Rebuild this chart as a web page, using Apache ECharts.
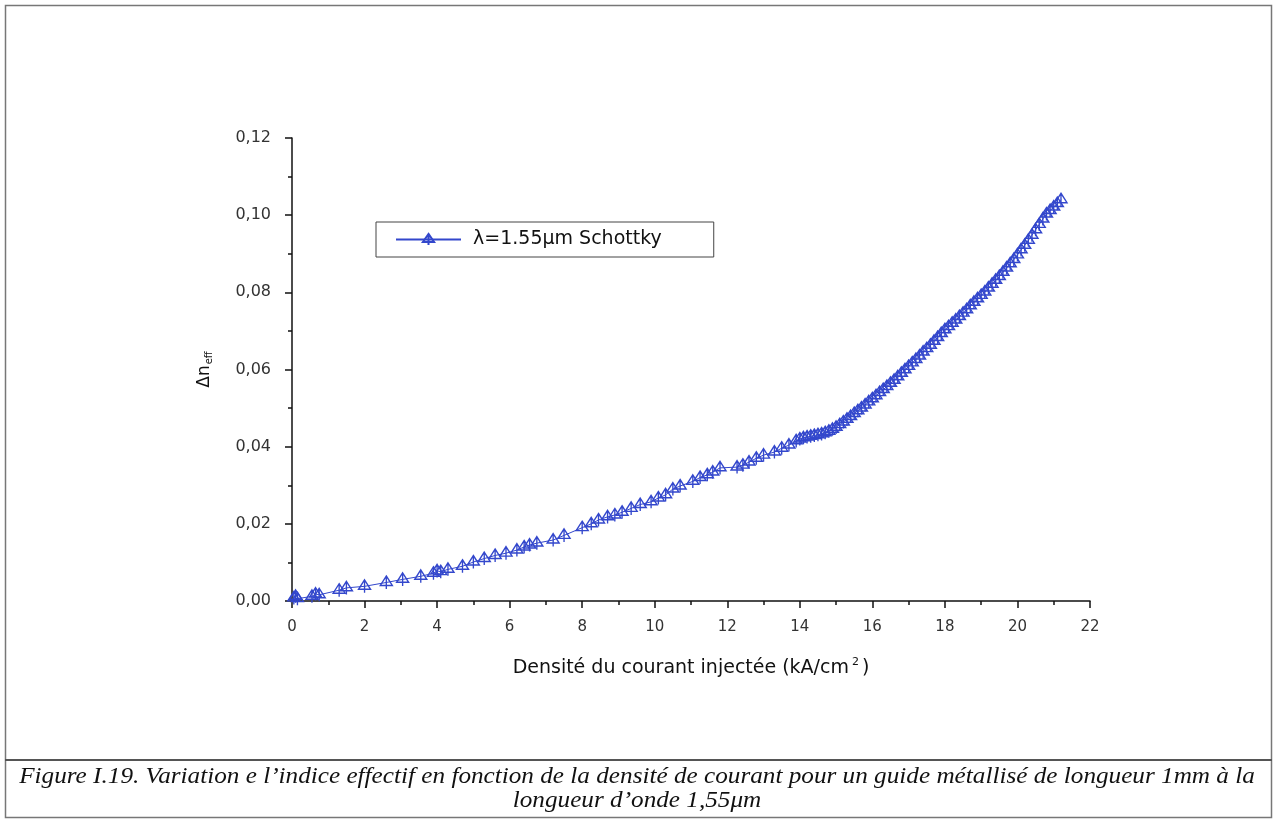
<!DOCTYPE html>
<html><head><meta charset="utf-8">
<script src="https://cdn.jsdelivr.net/npm/echarts@6/dist/echarts.min.js"></script>
<style>html,body{margin:0;padding:0;background:#fff}#c{width:1277px;height:821px}</style>
</head><body><div id="c"></div>
<script>
var xVals = [0.05,0.10,0.15,0.55,0.65,0.75,1.30,1.50,2.00,2.60,3.05,3.55,3.90,4.00,4.10,4.30,4.70,
5.00,5.30,5.60,5.90,6.20,6.40,6.55,6.75,7.20,7.50,8.00,8.25,8.45,8.70,8.90,9.10,9.35,9.60,9.90,10.10,10.30,
10.50,10.70,11.05,11.25,11.45,11.60,11.80,12.27,12.43,12.60,12.80,13.00,13.30,13.50,13.70,
13.90,14.00,14.10,14.20,14.30,14.40,14.50,14.60,14.70,14.80,14.90,
15.0,15.1,15.2,15.3,15.4,15.5,15.6,15.7,15.8,15.9,16.0,16.1,16.2,16.3,16.4,16.5,16.6,16.7,16.8,16.9,
17.0,17.1,17.2,17.3,17.4,17.5,17.6,17.7,17.8,17.9,18.0,18.1,18.2,18.3,18.4,18.5,18.6,18.7,18.8,18.9,
19.0,19.1,19.2,19.3,19.4,19.5,19.6,19.7,19.8,19.9,20.0,20.1,20.2,20.3,20.4,20.5,20.6,20.7,20.8,20.9,
21.0,21.1,21.2];
var yVals = [0.0008,0.0012,0.0006,0.0012,0.0018,0.0016,0.0028,0.0034,0.0038,0.0048,0.0056,0.0064,0.0072,0.0078,0.0076,0.0082,0.0090,
0.0101,0.0110,0.0118,0.0124,0.0132,0.0140,0.0145,0.0150,0.0158,0.0170,0.0190,0.0200,0.0210,0.0218,0.0223,0.0230,0.0240,0.0250,0.0257,0.0267,0.0275,
0.0290,0.0298,0.0310,0.0320,0.0327,0.0334,0.0345,0.0347,0.0352,0.0360,0.0370,0.0378,0.0386,0.0396,0.0404,
0.0415,0.0420,0.0423,0.0425,0.0427,0.0429,0.0431,0.0433,0.0436,0.0440,0.0445,
0.0450,0.0457,0.0464,0.0471,0.0478,0.0486,0.0493,0.0500,0.0508,0.0516,0.0524,0.0532,0.0540,0.0548,0.0556,0.0564,0.0572,0.0581,0.0590,0.0599,
0.0608,0.0617,0.0626,0.0635,0.0645,0.0654,0.0663,0.0673,0.0683,0.0693,0.0703,0.0711,0.0720,0.0728,0.0737,0.0746,0.0755,0.0765,0.0774,0.0783,
0.0792,0.0801,0.0811,0.0821,0.0831,0.0841,0.0852,0.0863,0.0874,0.0885,0.0897,0.0910,0.0922,0.0935,0.0948,0.0962,0.0976,0.0990,0.1003,0.1012,
0.1021,0.1030,0.1040];
var seriesName = 'λ=1.55μm Schottky';
var xAxisTitle = 'Densité du courant injectée (kA/cm';
var captionLines = ['Figure I.19. Variation e l\u2019indice effectif en fonction de la densité de courant pour un guide métallisé de longueur 1mm à la',
                    'longueur d\u2019onde 1,55μm'];

var data = xVals.map(function(x,i){return [x,yVals[i]];});
var blue = '#3347cc';
var sym = 'path://M10,0 L20,16 L0,16 Z M10,0 L10,22';
var chart = echarts.init(document.getElementById('c'));
var font = 'DejaVu Sans';
chart.setOption({
  backgroundColor:'#fff',
  animation:false,
  grid:{left:292,right:187,top:138,bottom:220},
  legend:{
    left:376, top:222, orient:'horizontal',
    padding:[8,52,8,19], itemWidth:65, itemHeight:14, itemGap:10,
    borderColor:'#444', borderWidth:1,
    textStyle:{fontFamily:font,fontSize:19,color:'#111',padding:[0,0,0,7]},
    data:[seriesName]
  },
  xAxis:{
    type:'value', min:0, max:22, interval:2,
    axisLine:{lineStyle:{color:'#111',width:1.5}},
    axisTick:{length:7,inside:false,lineStyle:{color:'#111',width:1.5}},
    minorTick:{show:true,splitNumber:2,length:4,lineStyle:{color:'#111',width:1.5}},
    splitLine:{show:false},
    axisLabel:{fontFamily:font,fontSize:15,color:'#333',margin:19},
    name:xAxisTitle+'{sup|2})', nameLocation:'middle', nameGap:56,
    nameTextStyle:{fontFamily:font,fontSize:19,color:'#111',
      rich:{sup:{fontFamily:font,fontSize:11,verticalAlign:'top',padding:[0,3,12,3],color:'#111'}}}
  },
  yAxis:{
    type:'value', min:0, max:0.12, interval:0.02,
    axisLine:{show:true,lineStyle:{color:'#111',width:1.5}},
    axisTick:{show:true,length:7,lineStyle:{color:'#111',width:1.5}},
    minorTick:{show:true,splitNumber:2,length:4,lineStyle:{color:'#111',width:1.5}},
    splitLine:{show:false},
    axisLabel:{fontFamily:font,fontSize:16,color:'#333',margin:21,
      formatter:function(v){return v.toFixed(2).replace('.',',');}},
    name:'Δn{sub|eff}', nameLocation:'middle', nameGap:78, nameRotate:90,
    nameTextStyle:{fontFamily:font,fontSize:17,color:'#111',
      rich:{sub:{fontFamily:font,fontSize:10,verticalAlign:'bottom',padding:[8,0,0,1],color:'#111'}}}
  },
  series:[{
    name:seriesName, type:'line', data:data,
    symbol:sym, symbolSize:[12,13], symbolKeepAspect:false, showAllSymbol:true,
    lineStyle:{color:blue,width:1},
    itemStyle:{color:'rgba(255,255,255,0)',borderColor:blue,borderWidth:1.4},
    emphasis:{disabled:true}
  }],
  graphic:[
    {type:'rect',shape:{x:5.5,y:5.5,width:1266,height:812},style:{fill:'none',stroke:'#777',lineWidth:1.5},silent:true},
    {type:'line',shape:{x1:5,y1:760,x2:1272,y2:760},style:{stroke:'#555',lineWidth:2},silent:true},
    {type:'text',x:637,y:777,scaleX:1.05,style:{x:0,y:0,text:captionLines[0],font:'italic 24px "Liberation Serif"',fill:'#111',textAlign:'center',textVerticalAlign:'middle'},silent:true},
    {type:'text',x:637,y:801,scaleX:1.05,style:{x:0,y:0,text:captionLines[1],font:'italic 24px "Liberation Serif"',fill:'#111',textAlign:'center',textVerticalAlign:'middle'},silent:true}
  ]
});
</script></body></html>
